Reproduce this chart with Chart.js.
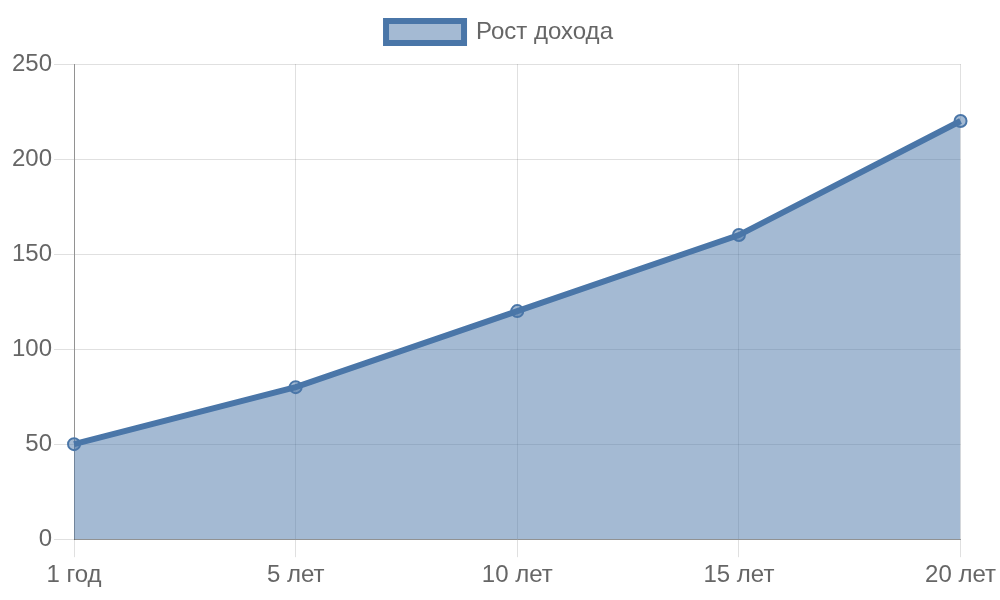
<!DOCTYPE html>
<html>
<head>
<meta charset="utf-8">
<script src="https://cdn.jsdelivr.net/npm/chart.js@4"></script>
<style>
  html, body { margin: 0; padding: 0; background: #fff; }
  .wrap { width: 1000px; height: 600px; }
</style>
</head>
<body>
<div class="wrap"><canvas id="chart"></canvas></div>
<script>
const labels = ['1 год', '5 лет', '10 лет', '15 лет', '20 лет'];
const income = [50, 80, 120, 160, 220];
const seriesName = 'Рост дохода';

Chart.defaults.font.family = '"Liberation Sans", Arial, sans-serif';
Chart.defaults.font.size = 24;
Chart.defaults.color = '#666';

// extra space under the legend
const legendGap = {
  id: 'legendGap',
  beforeInit(chart) {
    const fit = chart.legend.fit;
    chart.legend.fit = function () {
      fit.bind(chart.legend)();
      this.height += 10;
    };
  }
};

const config = {
  type: 'line',
  data: {
    labels: labels,
    datasets: [
      {
        label: seriesName,
        data: income,
        borderColor: '#4a76a8',
        backgroundColor: 'rgba(74, 118, 168, 0.5)',
        borderWidth: 6,
        fill: true,
        tension: 0,
        pointRadius: 6,
        pointBorderWidth: 2,
        pointBackgroundColor: 'rgba(74, 118, 168, 0.5)',
        pointBorderColor: '#4a76a8'
      }
    ]
  },
  options: {
    responsive: true,
    maintainAspectRatio: false,
    animation: false,
    layout: { padding: { left: 10, right: 11, top: 10, bottom: 6 } },
    plugins: {
      legend: {
        display: true,
        labels: {
          boxWidth: 78,
          boxHeight: 22,
          padding: 10
        }
      }
    },
    scales: {
      x: {
        grid: { color: 'rgba(0,0,0,0.12)', tickLength: 18 },
        border: { color: 'rgba(0,0,0,0.35)' },
        ticks: { maxRotation: 0, padding: 4 }
      },
      y: {
        min: 0,
        max: 250,
        grid: { color: 'rgba(0,0,0,0.12)', tickLength: 20 },
        border: { color: 'rgba(0,0,0,0.35)' },
        ticks: { stepSize: 50, padding: 2 }
      }
    }
  },
  plugins: [legendGap]
};

new Chart(document.getElementById('chart'), config);
</script>
</body>
</html>
